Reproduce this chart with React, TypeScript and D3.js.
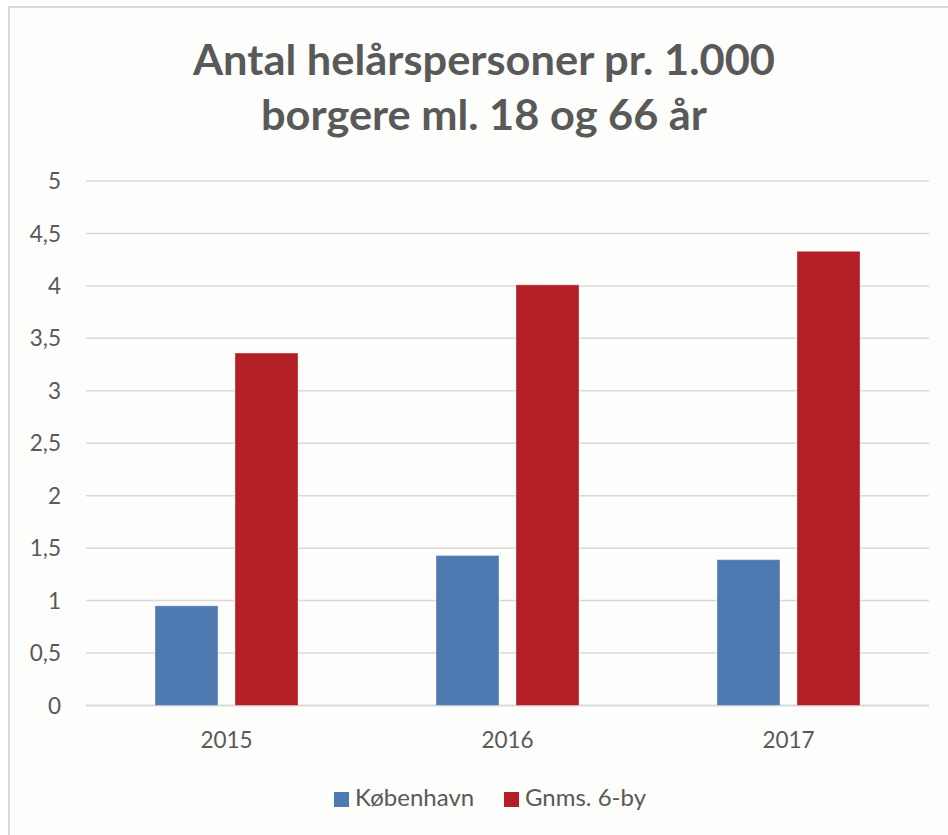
import React from "react";
import * as d3 from "d3";

const categories = ["2015", "2016", "2017"];
const seriesNames = ["København", "Gnms. 6-by"];
const kobenhavn = [0.95, 1.43, 1.39];
const gnms6by = [3.36, 4.01, 4.33];
const yTicks = [0, 0.5, 1, 1.5, 2, 2.5, 3, 3.5, 4, 4.5, 5];
const colors = ["#4E7AB1", "#B31F25"];
const titleLines = ["Antal helårspersoner pr. 1.000", "borgere ml. 18 og 66 år"];

const W = 948;
const H = 835;
const plot = { left: 86, right: 929, top: 181, bottom: 705.5 };
const textColor = "#595959";
const gridColor = "#d9d9d9";
const font = "Lato, 'Open Sans', sans-serif";

export default function App() {
  const x0 = d3.scaleBand<string>().domain(categories).range([plot.left, plot.right]).padding(0);
  const y = d3.scaleLinear().domain([0, 5]).range([plot.bottom, plot.top]);
  const groupW = 143;
  const x1 = d3
    .scaleBand<string>()
    .domain(seriesNames)
    .range([x0.bandwidth() / 2 - groupW / 2, x0.bandwidth() / 2 + groupW / 2])
    .paddingInner(0.2125)
    .paddingOuter(0);
  const series = [kobenhavn, gnms6by];
  const fmt = (v: number) => String(v).replace(".", ",");

  return (
    <svg
      width={W}
      height={H}
      style={{ position: "absolute", left: 0, top: 0, display: "block" }}
    >
      <rect x={0} y={0} width={W} height={H} fill="#ffffff" />
      <rect x={9} y={7} width={W + 20} height={H + 20} fill="#fdfdfc" stroke={gridColor} strokeWidth={2} />
      {titleLines.map((t, i) => (
        <text
          key={i}
          x={484}
          y={75 + i * 55}
          textAnchor="middle"
          fontFamily={font}
          fontWeight={700}
          fontSize={42}
          fill={textColor}
          textLength={i === 0 ? 582 : 446}
          lengthAdjust="spacingAndGlyphs"
        >
          {t}
        </text>
      ))}
      {yTicks.map((t) => (
        <g key={t}>
          <line x1={plot.left} x2={plot.right} y1={y(t)} y2={y(t)} stroke={gridColor} strokeWidth={t === 0 ? 2 : 1.5} />
          <text
            x={61}
            y={y(t)}
            dy="0.36em"
            textAnchor="end"
            fontFamily={font}
            fontSize={22.5}
            fill={textColor}
          >
            {fmt(t)}
          </text>
        </g>
      ))}
      {categories.map((c, ci) => (
        <g key={c} transform={`translate(${x0(c)},0)`}>
          {seriesNames.map((s, si) => {
            const v = series[si][ci];
            return (
              <rect
                key={s}
                x={x1(s)}
                y={y(v)}
                width={x1.bandwidth()}
                height={y(0) - y(v)}
                fill={colors[si]}
                stroke="#ffffff"
                strokeOpacity={0.35}
                strokeWidth={1}
              />
            );
          })}
          <text
            x={x0.bandwidth() / 2}
            y={748}
            textAnchor="middle"
            fontFamily={font}
            fontSize={22.5}
            fill={textColor}
          >
            {c}
          </text>
        </g>
      ))}
      {seriesNames.map((s, si) => {
        const lx = si === 0 ? 334 : 504;
        return (
          <g key={s}>
            <rect x={lx} y={792} width={15} height={15} fill={colors[si]} />
            <text x={lx + 21} y={806} fontFamily={font} fontSize={24} fill={textColor}>
              {s}
            </text>
          </g>
        );
      })}
    </svg>
  );
}
